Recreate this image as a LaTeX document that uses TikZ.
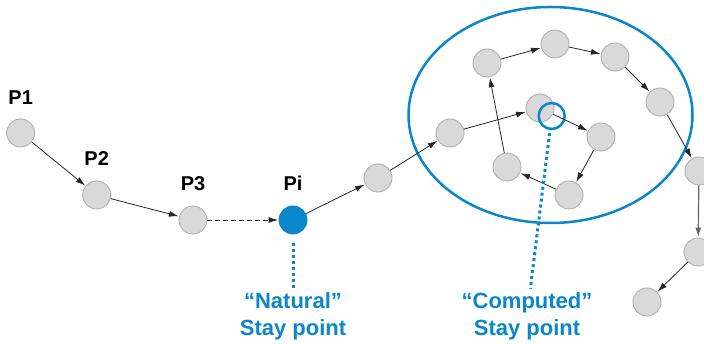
\documentclass[tikz,border=0pt]{standalone}
\usepackage{fontspec}
\setmainfont{Liberation Sans}
\usetikzlibrary{arrows.meta,positioning,shapes.geometric}
\definecolor{stayblue}{HTML}{0A86CC}
\definecolor{ptgray}{HTML}{D9D9D9}
\definecolor{ptline}{HTML}{B0B0B0}

\begin{document}
\begin{tikzpicture}[x=1pt,y=-1pt,
    point/.style={circle,fill=ptgray,draw=ptline,line width=0.9pt,minimum size=28pt,inner sep=0pt},
    natural/.style={point,fill=stayblue,draw=stayblue},
    plabel/.style={inner sep=0pt,font=\fontsize{20}{24}\selectfont\bfseries},
    staylabel/.style={align=center,text=stayblue,font=\fontsize{22}{27}\selectfont\bfseries},
    staylink/.style={stayblue,line width=3pt,dash pattern=on 3pt off 3pt},
    move/.style={-{Latex[length=9.5pt,width=6pt]},line width=0.8pt,black!85,shorten >=0.5pt}]
    \useasboundingbox (0,0) rectangle (704,344);

    \node[point  ]    (p1)  at (20.7,133)  {};
    \node[point  ]    (p2)  at (96.7,195)  {};
    \node[point  ]    (p3)  at (193,220)   {};
    \node[natural]    (pi)  at (293,220)   {};
    \node[point  ]    (s1)  at (378,178)   {};
    \node[point  ]    (s2)  at (450,133)   {};
    \node[point  ]    (s3)  at (540,108)   {};
    \node[point  ]    (s4)  at (601,137)   {};
    \node[point  ]    (s5)  at (569,195)   {};
    \node[point  ]    (s6)  at (507,167)   {};
    \node[point  ]    (s7)  at (487,63)    {};
    \node[point  ]    (s8)  at (555,44)    {};
    \node[point  ]    (s9)  at (615,57)    {};
    \node[point  ]    (s10) at (660,102)   {};
    \node[point  ]    (s11) at (699,171)   {};
    \node[point  ]    (s12) at (698,252)   {};
    \node[point  ]    (s13) at (647,302)   {};

    \node[plabel] (l1) [above=14pt of p1] {P1};
    \node[plabel] (l2) [above=15pt of p2] {P2};
    \node[plabel] (l3) [above=15pt of p3] {P3};
    \node[plabel] (li) [above=15pt of pi] {Pi};

    % cluster and computed stay point
    \node[ellipse,draw=stayblue,line width=2.5pt,minimum width=284pt,minimum height=216pt] (cluster) at (550.5,115) {};
    \node[circle,draw=stayblue,line width=2.5pt,minimum size=26pt,inner sep=0pt] (ring) at (551.7,116) {};

    \path [move]
    (p1)  edge (p2)
    (p2)  edge (p3)
    (p3)  edge [dash pattern=on 5pt off 3pt] (pi)
    (pi)  edge (s1)
    (s1)  edge (s2)
    (s2)  edge (s3)
    (s3)  edge (s4)
    (s4)  edge (s5)
    (s5)  edge (s6)
    (s6)  edge (s7)
    (s7)  edge (s8)
    (s8)  edge (s9)
    (s9)  edge (s10)
    (s10) edge (s11)
    (s11) edge [line width=1.2pt,black!60] (s12)
    (s12) edge (s13);

    \node[staylabel] (natlabel)  at (293,316) {``Natural''\\Stay point};
    \node[staylabel] (complabel) at (527,316) {``Computed''\\Stay point};

    \draw[staylink,shorten <=9pt] (pi) -- (natlabel);
    \draw[staylink,shorten <=3pt] (ring) -- (complabel);
\end{tikzpicture}
\end{document}
